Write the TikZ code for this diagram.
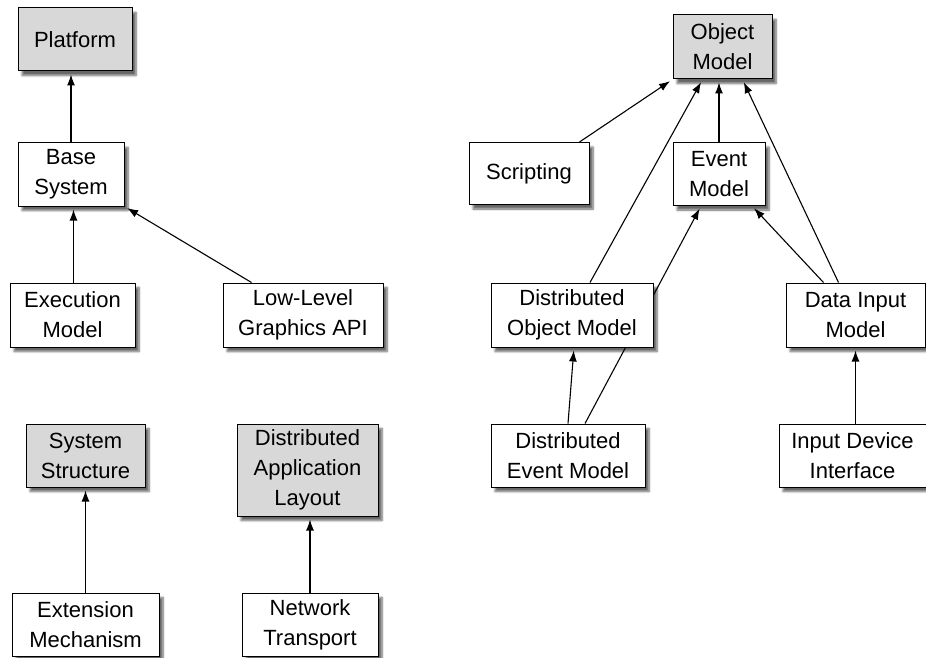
\documentclass[tikz,border=0pt]{standalone}
\usepackage{fontspec}
\setmainfont{Liberation Sans}
\usepackage{tikz}
\usetikzlibrary{
  arrows.meta,
  backgrounds,
  positioning,
  shadows.blur
}
\definecolor{boxgray}{HTML}{D8D8D8}
\tikzset{
  module/.style={
    draw=black,
    line width=1pt,
    fill=white,
    minimum height=63pt,
    inner sep=0pt,
    align=center,
    font=\fontsize{22}{30}\selectfont,
    blur shadow={shadow xshift=4pt, shadow yshift=-4.5pt, shadow blur steps=6, shadow opacity=60}
  },
  toplevel/.style={module, fill=boxgray},
  uses/.style={-{Latex[length=11pt, width=8pt]}, line width=1.1pt, shorten >=3pt}
}

\begin{document}
\begin{tikzpicture}[x=1pt, y=-1pt]
  \useasboundingbox (0,0) rectangle (926,658);

  \node[toplevel, minimum width=114pt] (platform) at (75,39.5) {Platform};
  \node[module, minimum width=106pt] (base) at (71,174.5) {Base\\System};
  \node[module, minimum width=125pt, minimum height=64pt] (exec) at (72.5,315) {Execution\\Model};
  \node[module, minimum width=160pt, minimum height=64pt] (graphics) at (303,315) {Low-Level\\Graphics API};

  \node[toplevel, minimum width=119pt] (structure) at (85.5,455.5) {System\\Structure};
  \node[toplevel, minimum width=141pt, minimum height=92pt] (layout) at (307.5,470) {Distributed\\Application\\Layout};
  \node[module, minimum width=147pt] (extension) at (85.5,624.5) {Extension\\Mechanism};
  \node[module, minimum width=136pt] (transport) at (310,624.5) {Network\\Transport};

  \node[toplevel, minimum width=99pt, minimum height=64pt] (objmodel) at (722.5,47) {Object\\Model};
  \node[module, minimum width=120pt, minimum height=62pt] (scripting) at (529,173.5) {Scripting};
  \node[module, minimum width=92pt] (eventmodel) at (719,174) {Event\\Model};
  \node[module, minimum width=162pt, minimum height=64pt] (distobj) at (572,315) {Distributed\\Object Model};
  \node[module, minimum width=139pt, minimum height=64pt] (datainput) at (855.5,315) {Data Input\\Model};
  \node[module, minimum width=154pt] (distevent) at (568,455.5) {Distributed\\Event Model};
  \node[module, minimum width=147pt] (device) at (852.5,455.5) {Input Device\\Interface};

  \begin{scope}[on background layer]
    \draw[uses] (base.north) -- (base.north |- platform.south);
    \draw[uses] ([xshift=1pt]exec.north) -- ([xshift=1pt]exec.north |- base.south);
    \draw[uses] ([xshift=29pt]graphics.north west) -- (base.south east);
    \draw[uses] (extension.north) -- (structure.south);
    \draw[uses] (transport.north) -- (transport.north |- layout.south);

    \draw[uses] ([xshift=-10pt]scripting.north east) -- (objmodel.south west);
    \draw[uses] ([xshift=18pt]distobj.north) -- ([xshift=-20pt]objmodel.south);
    \draw[uses] (eventmodel.north) -- (eventmodel.north |- objmodel.south);
    \draw[uses] ([xshift=-17pt]datainput.north) -- ([xshift=20pt]objmodel.south);
    \draw[uses] ([xshift=17pt]distevent.north) -- ([xshift=-18pt]eventmodel.south);
    \draw[uses] ([xshift=-32pt]datainput.north) -- ([xshift=33pt]eventmodel.south);
    \draw[uses] (distevent.north) -- ([xshift=2pt]distobj.south);
    \draw[uses] ([xshift=3pt]device.north) -- (datainput.south);
  \end{scope}
\end{tikzpicture}
\end{document}
